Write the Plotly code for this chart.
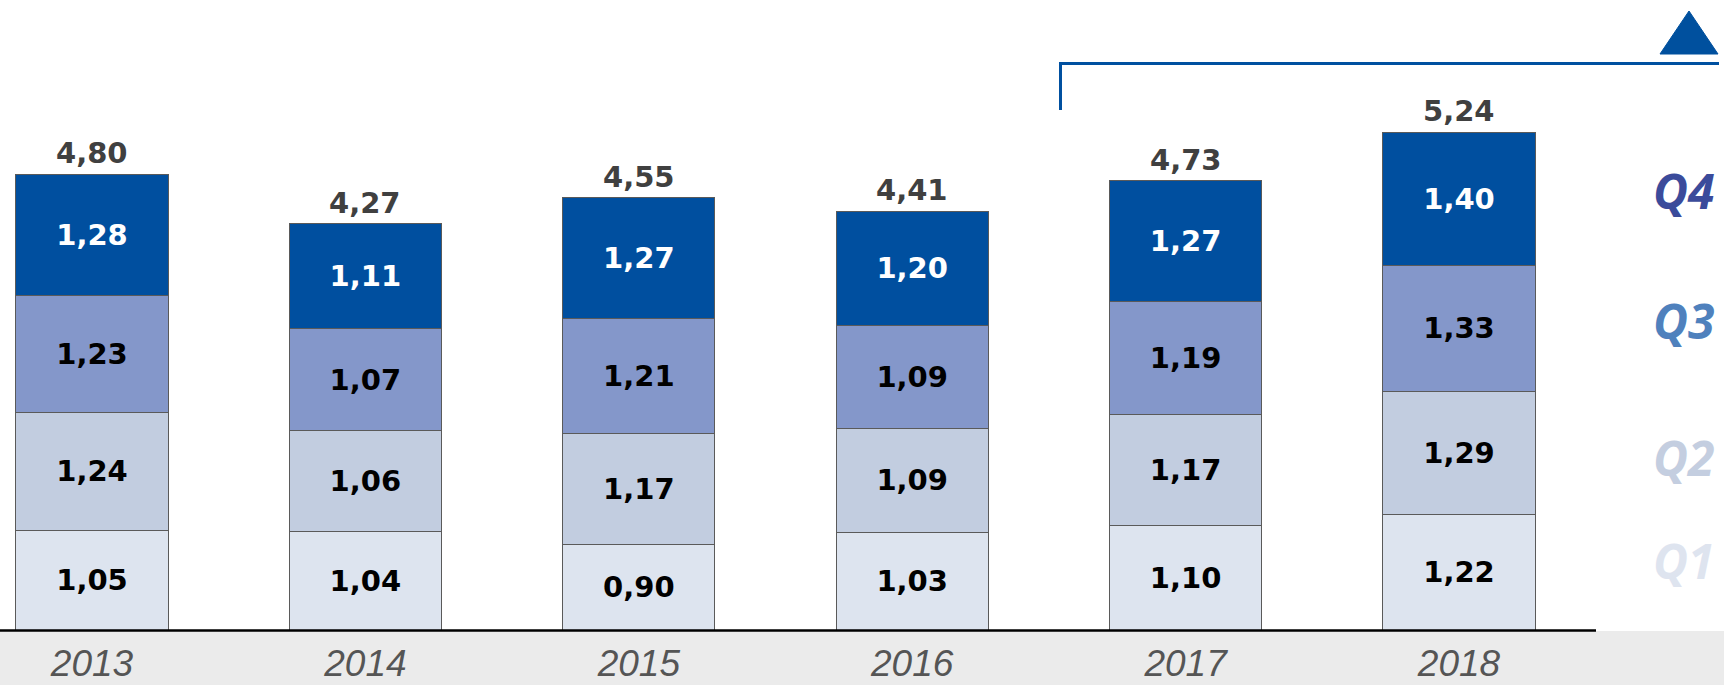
import plotly.graph_objects as go

years = ["2013", "2014", "2015", "2016", "2017", "2018"]
q1 = [1.05, 1.04, 0.90, 1.03, 1.10, 1.22]
q2 = [1.24, 1.06, 1.17, 1.09, 1.17, 1.29]
q3 = [1.23, 1.07, 1.21, 1.09, 1.19, 1.33]
q4 = [1.28, 1.11, 1.27, 1.20, 1.27, 1.40]
totals = [4.80, 4.27, 4.55, 4.41, 4.73, 5.24]
quarter_names = ["Q1", "Q2", "Q3", "Q4"]

W, H = 1724, 685
PLOT_H = 630  # pixel height of plotting area (top margin 0)
BOTTOM = H - PLOT_H

bar_colors = ["#DDE4EF", "#C2CDE0", "#8497CA", "#004F9F"]
text_colors = ["#000000", "#000000", "#000000", "#FFFFFF"]
q_label_colors = ["#DEE4EF", "#C4CEE0", "#4F81BD", "#3B4B9B"]
LABEL_FONT = "DejaVu Sans"

fig = go.Figure()
for name, vals, c, tc in zip(quarter_names, [q1, q2, q3, q4], bar_colors, text_colors):
    fig.add_trace(go.Bar(
        x=years, y=vals, name=name,
        marker=dict(color=c, line=dict(color="#5A5A5A", width=1)),
        width=0.556,
        texttemplate="%{y:.2f}",
        textposition="inside",
        insidetextanchor="middle",
        textangle=0,
        constraintext="none",
        textfont=dict(family=LABEL_FONT, size=29, color=tc, weight="bold"),
        showlegend=False,
        hoverinfo="skip",
    ))

annotations = []
for i, t in enumerate(totals):
    annotations.append(dict(
        x=i, y=t, xref="x", yref="y", text=f"{t:.2f}".replace(".", ","),
        showarrow=False, yanchor="bottom", yshift=2,
        font=dict(family=LABEL_FONT, size=29, color="#404040", weight="bold"),
    ))

q_label_y = [560, 457, 320, 190]
for name, py, c in zip(quarter_names, q_label_y, q_label_colors):
    annotations.append(dict(
        x=1651 / W, y=(PLOT_H - py) / PLOT_H, xref="paper", yref="paper",
        text=name, showarrow=False, xanchor="left", yanchor="middle",
        font=dict(family="Open Sans", size=48, color=c, weight="bold", style="italic"),
    ))

def px(x):
    return x / W

def py_(y):
    return (PLOT_H - y) / PLOT_H

shapes = [
    # grey band under axis
    dict(type="rect", xref="paper", yref="paper", x0=0, x1=1, y0=py_(H), y1=py_(PLOT_H + 1),
         fillcolor="#EBEBEB", line=dict(width=0), layer="below"),
    # axis line
    dict(type="line", xref="paper", yref="paper", x0=0, x1=px(1596), y0=py_(630.5), y1=py_(630.5),
         line=dict(color="#000000", width=2.5)),
    # bracket
    dict(type="path", xref="paper", yref="paper",
         path=f"M {px(1060.5)},{py_(110)} L {px(1060.5)},{py_(63.5)} L {px(1719)},{py_(63.5)}",
         line=dict(color="#0050A0", width=3)),
    # triangle
    dict(type="path", xref="paper", yref="paper",
         path=f"M {px(1660)},{py_(54)} L {px(1689)},{py_(11)} L {px(1718)},{py_(54)} Z",
         fillcolor="#00509E", line=dict(color="#00509E", width=1)),
]

x0 = -92 / 273.4
x1 = x0 + W / 273.4

fig.update_layout(
    width=W, height=H,
    barmode="stack",
    separators=",.",
    margin=dict(l=0, r=0, t=0, b=BOTTOM, pad=0, autoexpand=False),
    paper_bgcolor="#FFFFFF", plot_bgcolor="rgba(0,0,0,0)",
    xaxis=dict(type="category", range=[x0, x1], showgrid=False, zeroline=False,
               showline=False, ticks="", ticklabelstandoff=8, automargin=False,
               tickfont=dict(family="Liberation Sans, Arial", size=37, color="#555555", style="italic")),
    yaxis=dict(range=[0, PLOT_H / 95.0], visible=False, showgrid=False, zeroline=False,
               automargin=False),
    annotations=annotations,
    shapes=shapes,
)

fig.write_html("out.html", config={"displayModeBar": False},
               post_script="document.body.style.margin='0';document.body.style.overflow='hidden';")
